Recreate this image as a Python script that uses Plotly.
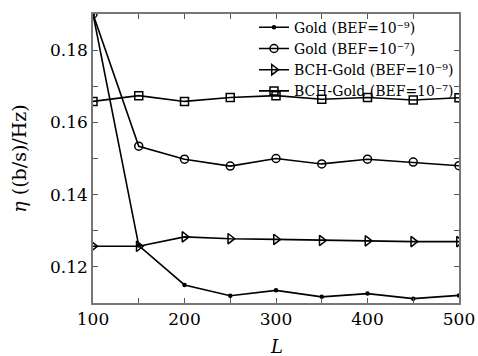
import plotly.graph_objects as go

L = [100, 150, 200, 250, 300, 350, 400, 450, 500]
gold_9 = [0.190, 0.1259, 0.1150, 0.1120, 0.1135, 0.1117, 0.1126, 0.1112, 0.1121]
gold_7 = [0.190, 0.1534, 0.1498, 0.1479, 0.1500, 0.1485, 0.1498, 0.1490, 0.1480]
bch_9 = [0.1257, 0.1257, 0.1283, 0.1278, 0.1276, 0.1273, 0.1272, 0.1270, 0.1270]
bch_7 = [0.1658, 0.1674, 0.1658, 0.1669, 0.1674, 0.1664, 0.1669, 0.1662, 0.1668]

names = ["Gold (BEF=10⁻⁹)", "Gold (BEF=10⁻⁷)",
         "BCH-Gold (BEF=10⁻⁹)", "BCH-Gold (BEF=10⁻⁷)"]
series = [gold_9, gold_7, bch_9, bch_7]
symbols = ["circle", "circle-open", "triangle-right-open", "square-open"]
sizes = [3, 8, 9, 8]

font = "DejaVu Serif, Liberation Serif, serif"
fig = go.Figure()
for n, s, sym, sz in zip(names, series, symbols, sizes):
    fig.add_trace(go.Scatter(
        x=L, y=s, name=n, mode="lines+markers",
        line=dict(color="black", width=1.6),
        marker=dict(symbol=sym, size=sz, color="black",
                    line=dict(color="black", width=1.5)),
    ))

axis_common = dict(showline=True, linecolor="#777", linewidth=1.5, mirror="ticks",
                   ticks="inside", tickcolor="#555", ticklen=5, showgrid=False,
                   zeroline=False, tickfont=dict(family=font, size=17, color="black"))

fig.update_xaxes(range=[100, 500], tickvals=[100, 200, 300, 400, 500],
                 minor=dict(tickvals=[150, 250, 350, 450], ticks="inside", ticklen=5, tickcolor="#555"),
                 **axis_common)
fig.update_yaxes(range=[0.11, 0.19], tickvals=[0.12, 0.14, 0.16, 0.18], tickformat=".2f",
                 minor=dict(tickvals=[0.13, 0.15, 0.17], ticks="inside", ticklen=5, tickcolor="#555"),
                 title=dict(text="<i>η</i> ((b/s)/Hz)", font=dict(family=font, size=19, color="black"), standoff=18),
                 **axis_common)

fig.add_annotation(text="<i>L</i>", xref="paper", yref="paper", x=0.5, y=0,
                   yshift=-43, yanchor="middle", showarrow=False,
                   font=dict(family=font, size=18, color="black"))

fig.update_layout(
    width=478, height=356,
    margin=dict(l=93, r=19, t=14, b=53, autoexpand=False),
    plot_bgcolor="white", paper_bgcolor="white",
    font=dict(family=font, color="black"),
    legend=dict(x=1.0, y=1.008, xanchor="right", yanchor="top",
                bgcolor="rgba(255,255,255,0)", borderwidth=0,
                font=dict(family=font, size=14, color="black"),
                tracegroupgap=0, itemwidth=30),
)

fig.write_html("out.html", config={"displayModeBar": False},
               post_script="document.body.style.margin='0px';")
